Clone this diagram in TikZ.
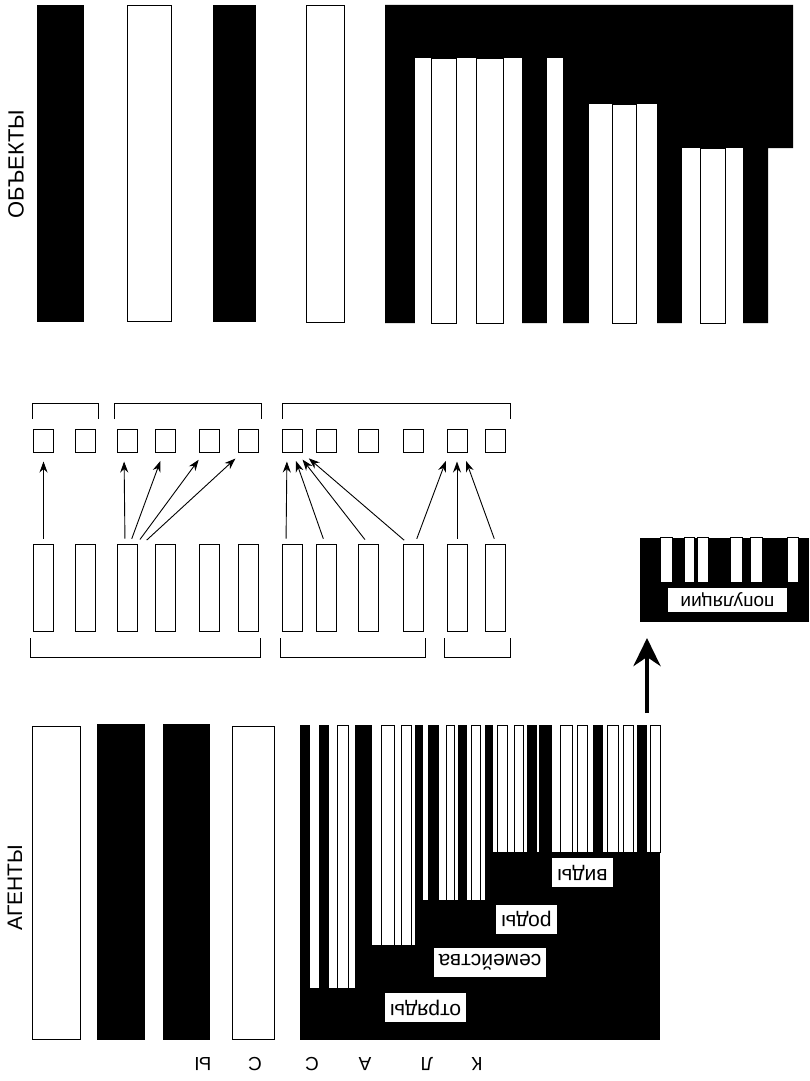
\documentclass[tikz,border=0pt]{standalone}
\usepackage{fontspec}
\setmainfont{Liberation Sans}
\usetikzlibrary{arrows.meta, positioning}

\begin{document}
\begin{tikzpicture}[
    x=1pt, y=-1pt,
    >=Stealth,
    darkbar/.style={fill=black},
    gapbar/.style={fill=white},
    lightbar/.style={draw=black, fill=white, line width=0.9pt},
    tallbox/.style={draw, line width=1pt, minimum width=20pt, minimum height=87pt, inner sep=0pt},
    smallbox/.style={draw, line width=1pt, minimum width=20pt, minimum height=23pt, inner sep=0pt},
    link/.style={-{Stealth[length=11pt,width=8pt]}, line width=0.9pt, shorten <=5pt, shorten >=9pt},
    bracket/.style={line width=0.9pt},
    rank/.style={fill=white, rotate=180, inner xsep=5pt, minimum height=29pt, font=\fontsize{21}{21}\selectfont},
    axis/.style={rotate=90, font=\fontsize{22}{22}\selectfont},
    letter/.style={rotate=180, font=\fontsize{19}{19}\selectfont},
]
\useasboundingbox (0,0) rectangle (809,1081);

% === ОБЪЕКТЫ ===
\node[axis] (objects) at (16,164) {ОБЪЕКТЫ};

% Полосы слева
\fill[darkbar] (37,5) rectangle (84,322);
\draw[lightbar] (127,5) rectangle (171,321);
\fill[darkbar] (213,5) rectangle (256,322);
\draw[lightbar] (306,5) rectangle (344,322);

% Гребенка сверху
\fill[darkbar] (385,5) -- (793,5) -- (793,148) -- (768,148) -- (768,323) -- (385,323) -- cycle;
\foreach \a/\b/\t in {415/431/58, 456/476/58, 503/522/58, 547/563/58,
                      589/612/104, 636/657/104, 682/700/148, 725/743/148} {
    \fill[gapbar] (\a,\t) rectangle (\b,324);
}
\foreach \a/\b/\t in {431/456/58, 476/503/58, 612/636/104, 700/725/148} {
    \draw[lightbar] (\a,\t) rectangle (\b,323);
}

% === Схема соответствия ===
\foreach \i/\x in {1/43.5, 2/85, 3/127, 4/165.5, 5/209, 6/248,
                   7/292, 8/326, 9/368, 10/413, 11/457, 12/495} {
    \node[tallbox] (b\i) at (\x,587.5) {};
    \node[smallbox] (s\i) at (\x,440.5) {};
}

% Скобки
\draw[bracket] (32,419) -- (32,403) -- (98,403) -- (98,419);
\draw[bracket] (114,419) -- (114,403) -- (261,403) -- (261,419);
\draw[bracket] (282,419) -- (282,403) -- (510,403) -- (510,419);
\draw[bracket] (30,638) -- (30,657) -- (260,657) -- (260,638);
\draw[bracket] (280,638) -- (280,657) -- (425,657) -- (425,638);
\draw[bracket] (444,638) -- (444,657) -- (510,657) -- (510,638);

% Стрелки
\draw[link] (b1.north) -- (s1.south);
\draw[link] ([xshift=-2pt]b3.north) -- ([xshift=-3pt]s3.south);
\draw[link] ([xshift=3pt]b3.north) -- ([xshift=-2pt]s4.south);
\draw[link] ([xshift=10pt]b3.north) -- ([xshift=-5pt]s5.south);
\draw[link] ([xshift=16pt]b3.north) -- ([xshift=-6pt]s6.south);
\draw[link] ([xshift=-6pt]b7.north) -- ([xshift=-5pt]s7.south);
\draw[link] ([xshift=-1pt]b8.north) -- ([xshift=1pt]s7.south);
\draw[link] (b9.north) -- ([xshift=5pt]s7.south);
\draw[link] ([xshift=-5pt]b10.north) -- ([xshift=10pt]s7.south);
\draw[link] ([xshift=2pt]b10.north) -- ([xshift=-8pt]s11.south);
\draw[link] (b11.north) -- (s11.south);
\draw[link] ([xshift=1pt]b12.north) -- ([xshift=6pt]s11.south);

% === Популяции ===
\fill[darkbar] (640,538) rectangle (809,622);
\foreach \a/\b in {660/672, 684/694, 697/708, 730/742, 750/762, 787/798} {
    \draw[lightbar] (\a,537) rectangle (\b,582);
}
\node[fill=white, rotate=180, minimum width=119pt, minimum height=24pt, inner sep=0pt,
      font=\fontsize{19}{19}\selectfont] (populations) at (727.5,600) {популяции};
\coordinate (popbase) at (647,622);
\coordinate (lift) at (647,713);
\draw[line width=4.5pt, -{Stealth[length=28pt,width=27pt,inset=9pt]}, shorten >=16pt] (lift) -- (popbase);

% === АГЕНТЫ ===
\node[axis, font=\fontsize{21}{21}\selectfont] (agents) at (15,888) {АГЕНТЫ};

% Полосы слева
\draw[lightbar] (32,726) rectangle (80,1039);
\fill[darkbar] (97,724) rectangle (145,1040);
\fill[darkbar] (163,724) rectangle (210,1040);
\draw[lightbar] (232,726) rectangle (274,1039);

% Гребенка снизу
\fill[darkbar] (300,725) rectangle (660,1040);
\foreach \a/\b/\t in {310/319/988, 329/337/988, 348/355/988,
                      372/381/945, 394/401/945, 411/415/945,
                      423/428/900, 439/446/900, 454/458/900, 467/471/900, 480/485/900,
                      493/497/852, 507/514/852, 523/527/852, 537/539/852, 552/560/852,
                      572/577/852, 587/593/852, 603/607/852, 618/623/852, 633/637/852,
                      647/650/852} {
    \fill[gapbar] (\a,724) rectangle (\b,\t);
}
\foreach \a/\b/\t in {337/348/988, 381/394/945, 401/411/945, 446/454/900, 471/480/900,
                      497/507/852, 514/523/852, 560/572/852, 577/587/852,
                      607/618/852, 623/633/852, 650/660/852} {
    \draw[lightbar] (\a,725) rectangle (\b,\t);
}

% Таксоны
\node[rank] (orders) at (425.5,1007.5) {отряды};
\node[rank] (families) at (490,962.5) {семейства};
\node[rank] (genera) at (526.5,919) {роды};
\node[rank] (species) at (582.5,872.5) {виды};

% КЛАССЫ
\foreach \l/\x in {К/477, Л/427, А/365, С/312, С/255, Ы/203} {
    \node[letter] (cls\x) at (\x,1064) {\l};
}

\end{tikzpicture}
\end{document}
